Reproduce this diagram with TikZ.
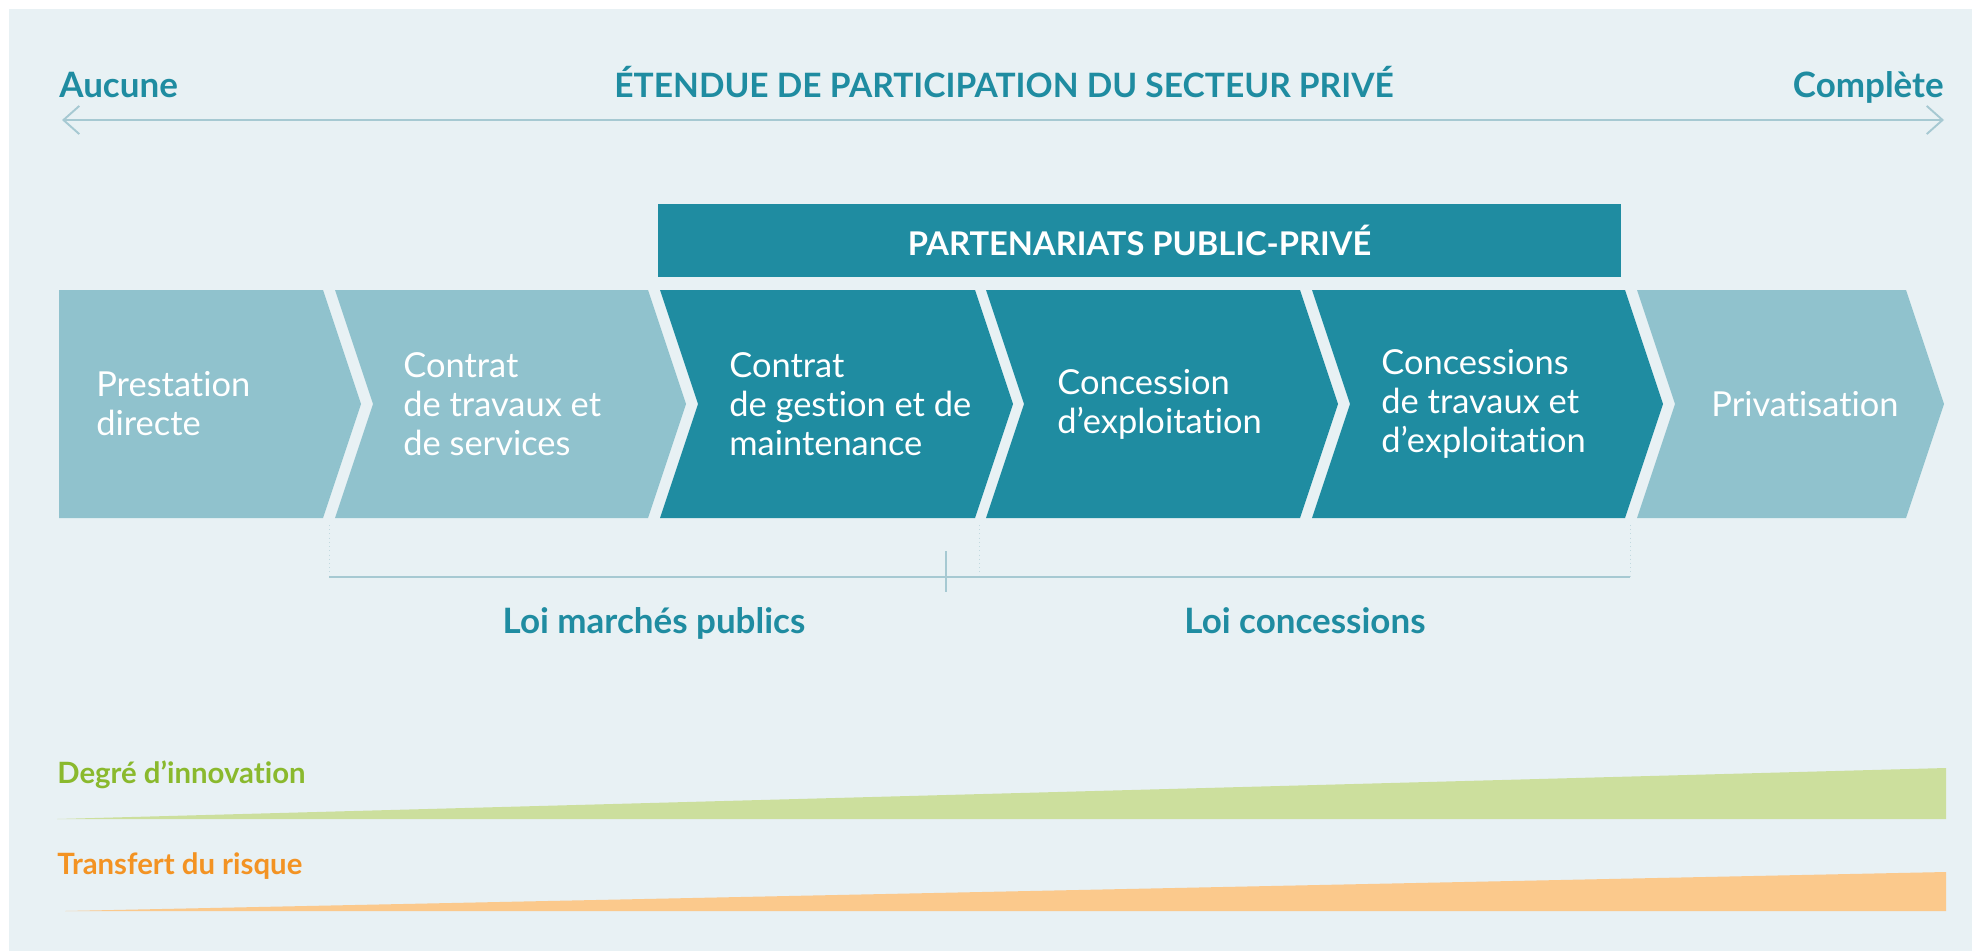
\documentclass[tikz,border=0pt]{standalone}
\usepackage{fontspec}
\setmainfont{Lato}[Ligatures=NoCommon]
\usetikzlibrary{arrows.meta}
\definecolor{fond}{HTML}{E8F1F4}
\definecolor{petrole}{HTML}{1F8CA1}
\definecolor{clair}{HTML}{90C2CD}
\definecolor{trait}{HTML}{A6C9D2}
\definecolor{vert}{HTML}{8AB92D}
\definecolor{vertclair}{HTML}{CCDF9D}
\definecolor{orangefonce}{HTML}{F39323}
\definecolor{orangeclair}{HTML}{FBC98C}
\tikzset{
  etiquette/.style={text=petrole, inner sep=0, font=\fontsize{19.9}{22}\selectfont\bfseries},
  chevtxt/.style={text=white, anchor=west, align=left, inner sep=0, font=\fontsize{19.6}{22.2}\selectfont},
  degre/.style={anchor=base west, inner sep=0, font=\fontsize{16.7}{18}\selectfont\bfseries},
  barbe/.tip={Straight Barb[length=9pt,width=16pt]},
}

\begin{document}
\begin{tikzpicture}[x=0.02cm, y=-0.02cm]
\useasboundingbox (0,0) rectangle (1972,951);
\fill[white] (0,0) rectangle (1972,951);
\fill[fond] (9,9) rectangle (1972,951);

% echelle du haut
\node[etiquette, anchor=base west] (aucune) at (59,97) {Aucune};
\node[etiquette, anchor=base east] (complete) at (1944,97) {Complète};
\node[etiquette, anchor=base, font=\fontsize{19.1}{22}\selectfont\bfseries] (etendue) at (1004,97) {ÉTENDUE DE PARTICIPATION DU SECTEUR PRIVÉ};
\coordinate (gauche) at (62,120);
\coordinate (droite) at (1944,120);
\draw[trait, line width=1.1pt, barbe-barbe] (gauche) -- (droite);

\node[fill=petrole, text=white, minimum width=19.26cm, minimum height=1.46cm, inner sep=0,
  font=\fontsize{18.6}{20}\selectfont\bfseries] (ppp) at (1139.5,240.5) {PARTENARIATS PUBLIC-PRIVÉ};

% chevrons
\fill[clair] (59,290) -- (323,290) -- ++(38,114) -- (323,518) -- (59,518) -- cycle;
\foreach \a/\b/\c in {335/648/clair, 660/975/petrole, 986/1300/petrole, 1312/1625/petrole, 1637/1906/clair}
  \fill[\c] (\a,290) -- (\b,290) -- ++(38,114) -- (\b,518) -- (\a,518) -- ++(38,-114) -- cycle;

\node[chevtxt] (prest) at (96,404) {Prestation\\directe};
\node[chevtxt] (travaux) at (403,404) {Contrat\\de travaux et\\de services};
\node[chevtxt] (gestion) at (729,404) {Contrat\\de gestion et de\\maintenance};
\node[chevtxt] (exploit) at (1057,404) {Concession\\d’exploitation};
\node[chevtxt] (conctrav) at (1381,404) {Concessions\\de travaux et\\d’exploitation};
\node[chevtxt] (priv) at (1711,404) {Privatisation};

% accolades des lois
\foreach \x in {329,979,1630}
  \draw[trait!70, line width=0.4pt, dotted] (\x,525) -- (\x,577);
\coordinate (mpg) at (329,577);
\coordinate (mpd) at (1630,577);
\coordinate (milh) at (946,551);
\coordinate (milb) at (946,592);
\draw[trait, line width=1.1pt] (mpg) -- (mpd);
\draw[trait, line width=0.6pt] (milh) -- (milb);
\node[etiquette, anchor=base] (marches) at (654,633) {Loi marchés publics};
\node[etiquette, anchor=base] (concessions) at (1305,633) {Loi concessions};

% coins
\fill[vertclair] (57,819) -- (1946,768) -- (1946,819) -- cycle;
\fill[orangeclair] (65,911) -- (1946,872) -- (1946,911) -- cycle;
\node[degre, text=vert] (innov) at (57,783) {Degré d’innovation};
\node[degre, text=orangefonce] (risque) at (57,874) {Transfert du risque};
\end{tikzpicture}
\end{document}
